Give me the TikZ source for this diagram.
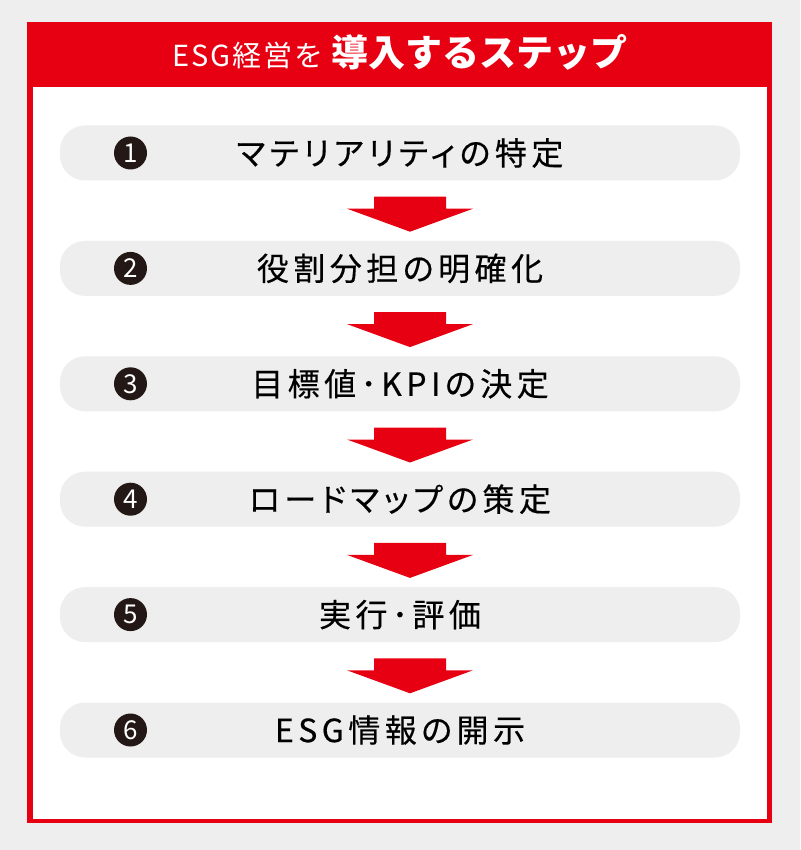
\documentclass[tikz,border=0pt]{standalone}
\usepackage{fontspec}
\setmainfont{Noto Sans CJK JP}
\newfontfamily\stepfont{Noto Sans CJK JP}[LetterSpace=14, RawFeature=+palt, FakeBold=0.4]
\newfontfamily\titlefont{Noto Sans CJK JP}[LetterSpace=7]
\usetikzlibrary{calc, positioning}
\definecolor{myRed}{HTML}{E60012}
\definecolor{myGrey}{HTML}{EEEEEE}
\definecolor{myDark}{HTML}{231815}
\tikzstyle{stepbox}= [fill=myGrey, rounded corners=25pt, minimum width=680pt, minimum height=55pt, inner sep=0pt, font=\stepfont\fontsize{32}{32}\selectfont]
\tikzstyle{num}= [circle, fill=myDark, text=white, minimum size=33pt, inner sep=0pt, font=\fontsize{26}{26}\selectfont]
\newcommand{\stepArrow}[1]{\fill[myRed] (#1) -- ++(-63,-23) -- ++(27,0) -- ++(0,-12) -- ++(72,0) -- ++(0,12) -- ++(27,0) -- cycle;}

\begin{document}
\begin{tikzpicture}[x=1pt, y=-1pt, node distance=60pt]
    % page and frame
    \fill[myGrey] (0,0) rectangle (800,850);
    \useasboundingbox (0,0) rectangle (800,850);
    \fill[myRed] (27,22) rectangle (772,823);
    \fill[white] (33,87) rectangle (767,819);

    % title
    \node [anchor=base, text=white, inner sep=0pt] (title) at (400,67)
        {{\titlefont\fontsize{29}{29}\selectfont ESG経営を}\hspace{8pt}{\bfseries\fontsize{37}{37}\selectfont 導入するステップ}};

    % steps
    \node [stepbox] (s1) at (400,153) {マテリアリティの特定};
    \node [stepbox, below=of s1] (s2) {役割分担の明確化};
    \node [stepbox, below=of s2] (s3) {目標値･KPIの決定};
    \node [stepbox, below=of s3] (s4) {ロードマップの策定};
    \node [stepbox, below=of s4] (s5) {実行･評価};
    \node [stepbox, below=of s5] (s6) {ESG情報の開示};

    % numbers
    \node [num, right=54pt of s1.west] (n1) {1};
    \node [num, right=54pt of s2.west] (n2) {2};
    \node [num, right=54pt of s3.west] (n3) {3};
    \node [num, right=54pt of s4.west] (n4) {4};
    \node [num, right=54pt of s5.west] (n5) {5};
    \node [num, right=54pt of s6.west] (n6) {6};

    % arrows between the steps
    \coordinate [above=9pt of s2.north, xshift=10pt] (t1);
    \coordinate [above=9pt of s3.north, xshift=10pt] (t2);
    \coordinate [above=9pt of s4.north, xshift=10pt] (t3);
    \coordinate [above=9pt of s5.north, xshift=10pt] (t4);
    \coordinate [above=9pt of s6.north, xshift=10pt] (t5);
    \stepArrow{t1}
    \stepArrow{t2}
    \stepArrow{t3}
    \stepArrow{t4}
    \stepArrow{t5}

\end{tikzpicture}
\end{document}
